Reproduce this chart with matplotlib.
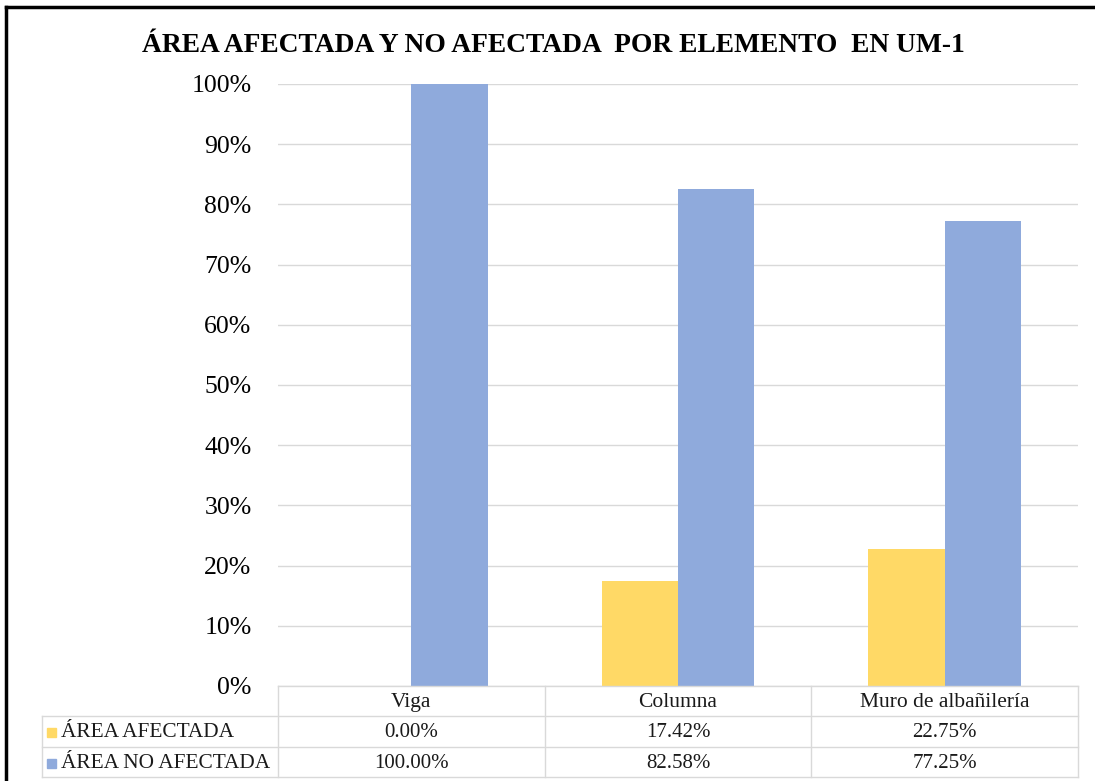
import matplotlib.pyplot as plt
import numpy as np
from matplotlib.lines import Line2D

categories = ['Viga', 'Columna', 'Muro de albañilería']
series_names = ['ÁREA AFECTADA', 'ÁREA NO AFECTADA']
afectada = [0.0, 17.42, 22.75]
no_afectada = [100.0, 82.58, 77.25]
colors = ['#FFD966', '#8FAADC']
yticks = [0, 10, 20, 30, 40, 50, 60, 70, 80, 90, 100]

W, H = 1095, 781
plt.rcParams['font.family'] = ['Liberation Serif', 'DejaVu Serif']
fig = plt.figure(figsize=(W / 100, H / 100), dpi=100)

# plot area in pixels
x0, x1 = 278, 1078
y_top, y_bot = 84, 686
ax = fig.add_axes([x0 / W, 1 - y_bot / H, (x1 - x0) / W, (y_bot - y_top) / H])

x = np.arange(len(categories))
bw = 0.5 / 1.75
ax.bar(x - bw / 2, afectada, bw, color=colors[0], zorder=3)
ax.bar(x + bw / 2, no_afectada, bw, color=colors[1], zorder=3)

ax.set_xlim(-0.5, len(categories) - 0.5)
ax.set_ylim(0, 100)
ax.set_yticks(yticks)
ax.set_yticklabels([f'{v}%' for v in yticks], fontsize=18.5)
ax.tick_params(axis='y', length=0, pad=19)
ax.set_xticks([])
ax.grid(axis='y', color='#d9d9d9', linewidth=1, zorder=0)
for s in ax.spines.values():
    s.set_visible(False)

fig.text(0.5 + 6 / W, 1 - 46 / H,
         'ÁREA AFECTADA Y NO AFECTADA  POR ELEMENTO  EN UM-1',
         ha='center', va='center', fontsize=19.8, fontweight='bold')

# data table below the plot
def hline(y, xa, xb):
    fig.add_artist(Line2D([xa / W, xb / W], [1 - y / H, 1 - y / H],
                          color='#d9d9d9', linewidth=1))

def vline(xp, ya, yb):
    fig.add_artist(Line2D([xp / W, xp / W], [1 - ya / H, 1 - yb / H],
                          color='#d9d9d9', linewidth=1))

rows = [686, 716, 747, 777]
lab_x = 42
col_w = (x1 - x0) / len(categories)
hline(rows[0], x0, x1)
for r in rows[1:]:
    hline(r, lab_x, x1)
vline(lab_x, rows[1], rows[3])
for i in range(len(categories) + 1):
    vline(x0 + i * col_w, rows[0], rows[3])

for i, cat in enumerate(categories):
    cx = (x0 + (i + 0.5) * col_w) / W
    fig.text(cx, 1 - ((rows[0] + rows[1]) / 2 + 1.5) / H, cat,
             ha='center', va='center', fontsize=15.5, color='#1a1a1a')
    for j, vals in enumerate([afectada, no_afectada]):
        fig.text(cx, 1 - ((rows[j + 1] + rows[j + 2]) / 2 + 1) / H, f'{vals[i]:.2f}%',
                 ha='center', va='center', fontsize=15, color='#1a1a1a')

for j, name in enumerate(series_names):
    yc = 1 - ((rows[j + 1] + rows[j + 2]) / 2 + 1) / H
    fig.patches.append(plt.Rectangle(((lab_x + 5) / W, yc - 4.5 / H), 9 / W, 9 / H,
                                     color=colors[j], transform=fig.transFigure))
    fig.text((lab_x + 19) / W, yc, name, ha='left', va='center',
             fontsize=15.4, color='#1a1a1a')

# outer chart border (top and left visible)
fig.add_artist(Line2D([6 / W, 1], [1 - 7 / H, 1 - 7 / H], color='black', linewidth=2.5))
fig.add_artist(Line2D([6 / W, 6 / W], [0, 1 - 7 / H], color='black', linewidth=2.5))

fig.savefig('out.png', dpi=100)
